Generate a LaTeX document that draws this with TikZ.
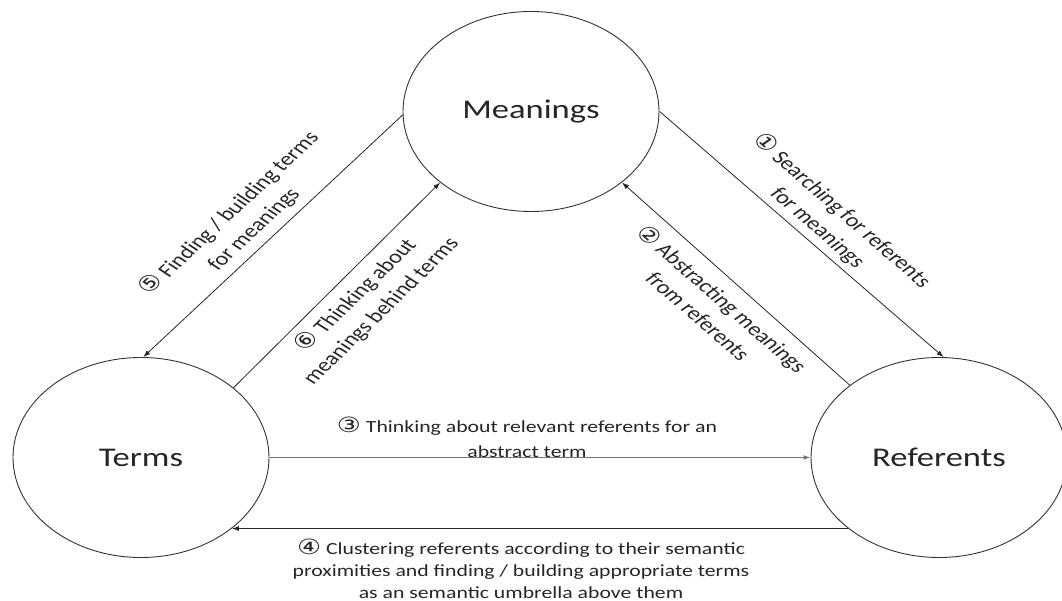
\documentclass[tikz,border=0pt]{standalone}
\usepackage{fontspec}
\setmainfont{Carlito}
\newfontfamily\symf{DejaVu Sans}
\usetikzlibrary{arrows.meta}
\newcommand{\cn}[1]{{\symf\fontsize{21}{21}\selectfont #1}}
\begin{document}
\begin{tikzpicture}[x=0.78125pt, y=-1pt, xscale=1.28, transform shape,
  ent/.style={circle, draw=black!80, line width=0.9pt, minimum size=200pt, inner sep=0pt,
    font=\fontsize{27}{32}\selectfont, text=black!85},
  lab/.style={align=center, font=\fontsize{17}{23}\selectfont, text=black!85, inner sep=0pt},
  rlab/.style={lab, font=\fontsize{19}{25}\selectfont},
  arr/.style={-{Latex[length=7pt,width=5pt]}, line width=0.8pt, draw=black!85}]
\useasboundingbox[fill=white] (0,0) rectangle (1062,601);
\node[ent] (M) at (531,111.5) {Meanings};
\node[ent] (T) at (141,457.5) {Terms};
\node[ent] (R) at (939,457.5) {Referents};
\draw[arr] (M.182) -- (T.89);
\draw[arr] (T.44) -- (M.225);
\draw[arr] (M.0) -- (R.88);
\draw[arr] (R.134) -- (M.315);
\draw[arr, line width=1.6pt, draw=black!55] (T.0) -- (R.180);
\draw[arr] (R.225) -- (T.315);
\node[rlab, rotate=50] (l5) at (241,221) {\cn{⑤} Finding / building terms\\for meanings};
\node[rlab, rotate=51] (l6) at (368,303) {\cn{⑥} Thinking about\\meanings behind terms};
\node[rlab, rotate=-48] (l1) at (830,219) {\cn{①} Searching for referents\\for meanings};
\node[rlab, rotate=-48] (l2) at (711,307) {\cn{②} Abstracting meanings\\from referents};
\node[lab, font=\fontsize{17}{25}\selectfont] (l3) at (527,437) {\cn{③} Thinking about relevant referents for an\\abstract term};
\node[lab, font=\fontsize{17}{22}\selectfont] (l4) at (521,569) {\cn{④} Clustering referents according to their semantic\\proximities and finding / building appropriate terms\\as an semantic umbrella above them};
\end{tikzpicture}
\end{document}
